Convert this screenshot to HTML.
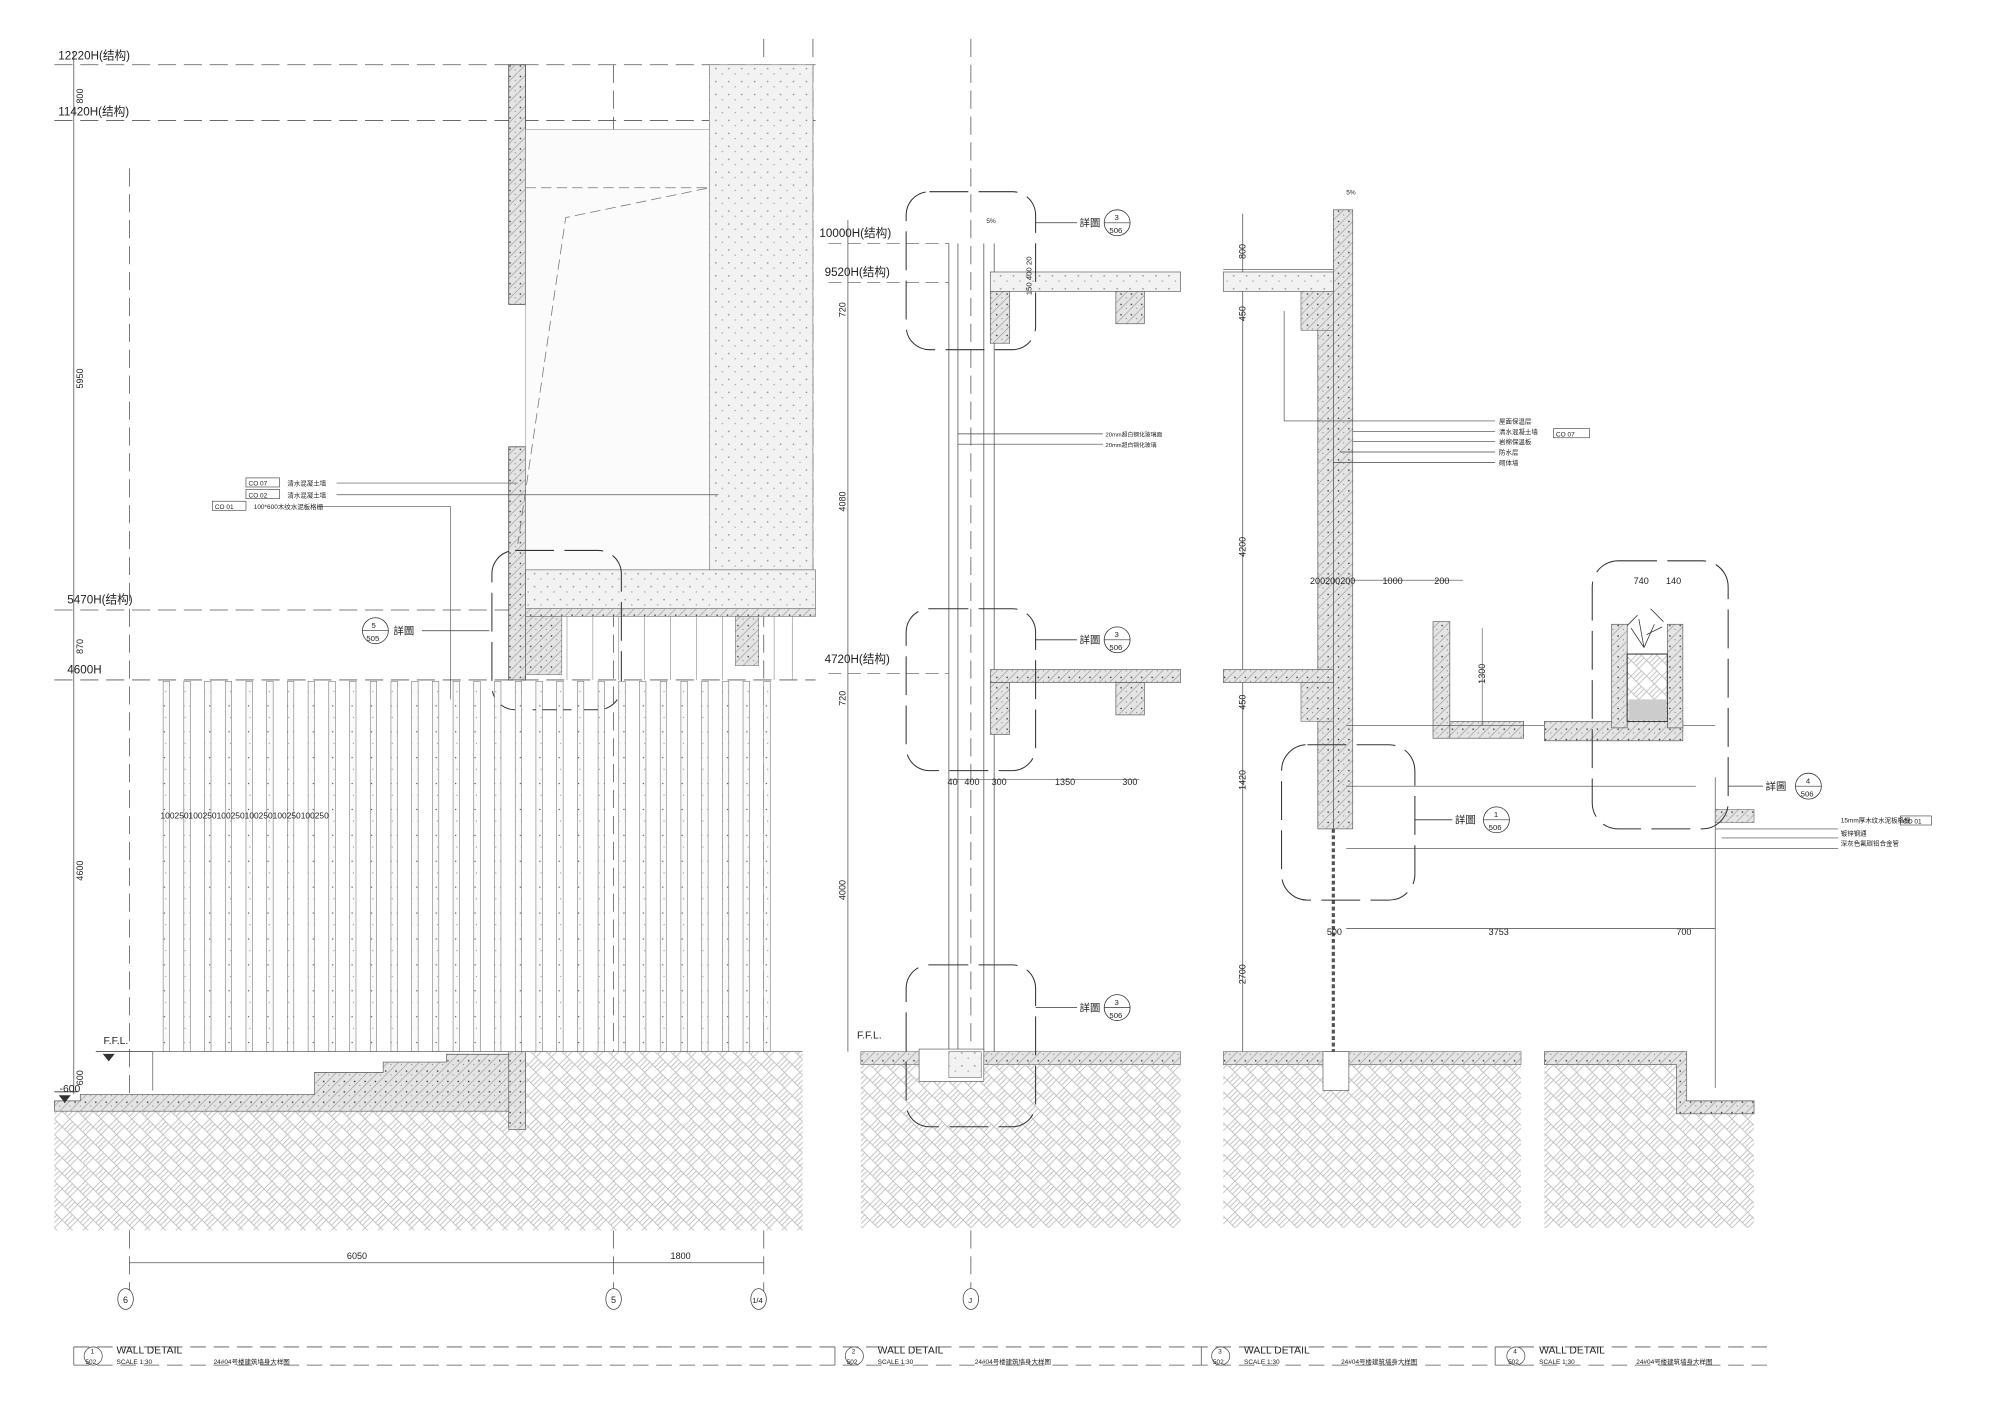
<!DOCTYPE html>
<html><head><meta charset="utf-8"><style>
html,body{margin:0;padding:0;background:#fff;}
svg{display:block;}
text{font-family:"Liberation Sans","Noto Sans CJK SC",sans-serif;fill:#222;}
</style></head><body>
<svg width="2000" height="1413" viewBox="0 0 1545 1091" preserveAspectRatio="none" xmlns="http://www.w3.org/2000/svg">
<defs>
<pattern id="gr" width="12" height="12" patternUnits="userSpaceOnUse">
<rect width="12" height="12" fill="#fff"/>
<path d="M0 6 L6 0 M2 8 L8 2 M6 12 L12 6 M4 10 L10 4 M6 0 L12 6 M0 6 L6 12" stroke="#b8b8b8" stroke-width="0.6"/>
</pattern>
<pattern id="cc" width="8" height="8" patternUnits="userSpaceOnUse">
<rect width="8" height="8" fill="#e4e4e4"/>
<path d="M0 8 L8 0" stroke="#999" stroke-width="0.5"/>
<circle cx="2" cy="3" r="0.6" fill="#333"/><circle cx="6" cy="6" r="0.4" fill="#555"/>
</pattern>
<pattern id="ct" width="10" height="10" patternUnits="userSpaceOnUse">
<rect width="10" height="10" fill="#f2f2f2"/>
<circle cx="3" cy="3" r="0.7" fill="#999"/><circle cx="8" cy="7" r="0.6" fill="#aaa"/>
</pattern>
<pattern id="sl" width="5" height="20" patternUnits="userSpaceOnUse">
<rect width="5" height="20" fill="#fafafa"/>
<circle cx="2" cy="5" r="0.5" fill="#444"/><circle cx="3" cy="14" r="0.4" fill="#777"/>
</pattern>
</defs>
<g stroke="#555" stroke-width="0.6" fill="none">
<!-- PANEL 1 levels -->
<g stroke-dasharray="14 6">
<line x1="42" y1="50" x2="630" y2="50"/><line x1="42" y1="93" x2="630" y2="93"/>
<line x1="42" y1="471" x2="630" y2="471"/><line x1="42" y1="525" x2="630" y2="525"/>
<line x1="100" y1="130" x2="100" y2="1000"/><line x1="474" y1="50" x2="474" y2="1000"/><line x1="590" y1="30" x2="590" y2="1000"/>
<line x1="628" y1="30" x2="628" y2="470"/>
<line x1="750" y1="30" x2="750" y2="1000"/>
</g>
<line x1="57" y1="40" x2="57" y2="845"/>
</g>
<g font-size="9">
<text x="45" y="46">12220H(结构)</text><text x="45" y="89">11420H(结构)</text>
<text x="52" y="466">5470H(结构)</text><text x="52" y="520">4600H</text>
<text x="80" y="806" font-size="8">F.F.L.</text><text x="46" y="843" font-size="8">-600</text>
</g>
<g font-size="7" transform="">
<text transform="translate(64,80) rotate(-90)">800</text>
<text transform="translate(64,300) rotate(-90)">5950</text>
<text transform="translate(64,505) rotate(-90)">870</text>
<text transform="translate(64,680) rotate(-90)">4600</text>
<text transform="translate(64,838) rotate(-90)">600</text>
</g>
<!-- upper structure -->
<rect x="393" y="50" width="13" height="185" fill="url(#cc)" stroke="#444" stroke-width="0.6"/>
<rect x="393" y="345" width="13" height="180" fill="url(#cc)" stroke="#444" stroke-width="0.6"/>
<rect x="548" y="50" width="80" height="390" fill="url(#ct)" stroke="#777" stroke-width="0.5"/>
<rect x="406" y="100" width="142" height="340" fill="#fbfbfb" stroke="#888" stroke-width="0.4"/>
<path d="M406 145 H548 L437 168 L400 420" stroke="#777" stroke-width="0.6" stroke-dasharray="8 4" fill="none"/>
<rect x="406" y="440" width="224" height="30" fill="url(#ct)" stroke="#666" stroke-width="0.5"/>
<rect x="406" y="470" width="224" height="6" fill="url(#cc)" stroke="#666" stroke-width="0.4"/>
<rect x="406" y="476" width="28" height="45" fill="url(#cc)" stroke="#666" stroke-width="0.4"/>
<rect x="568" y="476" width="18" height="38" fill="url(#cc)" stroke="#666" stroke-width="0.4"/>
<rect x="380" y="425" width="100" height="123" rx="18" fill="none" stroke="#333" stroke-width="0.8" stroke-dasharray="30 8"/>
<g font-size="7">
<circle cx="290" cy="487" r="10" fill="#fff" stroke="#333" stroke-width="0.6"/><line x1="280" y1="487" x2="300" y2="487" stroke="#333" stroke-width="0.5"/>
<text x="287" y="485" font-size="6">5</text><text x="283" y="495" font-size="6">505</text>
<text x="304" y="490" font-size="8">詳圖</text><line x1="326" y1="487" x2="378" y2="487" stroke="#333" stroke-width="0.6"/>
<rect x="190" y="369" width="26" height="7" fill="none" stroke="#444" stroke-width="0.5"/><text x="192" y="375" font-size="5">CO 07</text>
<rect x="190" y="378" width="26" height="7" fill="none" stroke="#444" stroke-width="0.5"/><text x="192" y="384" font-size="5">CO 02</text>
<rect x="164" y="387" width="26" height="7" fill="none" stroke="#444" stroke-width="0.5"/><text x="166" y="393" font-size="5">CO 01</text>
<text x="222" y="375" font-size="5">清水混凝土墙</text><text x="222" y="384" font-size="5">清水混凝土墙</text><text x="196" y="393" font-size="5">100*600木纹水泥板格栅</text>
</g>
<g stroke="#555" stroke-width="0.5">
<line x1="260" y1="373" x2="400" y2="373"/><line x1="260" y1="382" x2="555" y2="382"/><line x1="245" y1="391" x2="348" y2="391"/><line x1="348" y1="391" x2="348" y2="540"/>
</g>
<!-- slats -->
<g fill="url(#sl)" stroke="#666" stroke-width="0.4">
<rect x="126" y="526" width="5" height="286"/><rect x="142" y="526" width="5" height="286"/><rect x="158" y="526" width="5" height="286"/><rect x="174" y="526" width="5" height="286"/><rect x="190" y="526" width="5" height="286"/><rect x="206" y="526" width="5" height="286"/><rect x="222" y="526" width="5" height="286"/><rect x="238" y="526" width="5" height="286"/><rect x="254" y="526" width="5" height="286"/><rect x="270" y="526" width="5" height="286"/><rect x="286" y="526" width="5" height="286"/><rect x="302" y="526" width="5" height="286"/><rect x="318" y="526" width="5" height="286"/><rect x="334" y="526" width="5" height="286"/><rect x="350" y="526" width="5" height="286"/><rect x="366" y="526" width="5" height="286"/><rect x="382" y="526" width="5" height="286"/><rect x="398" y="526" width="5" height="286"/><rect x="414" y="526" width="5" height="286"/><rect x="430" y="526" width="5" height="286"/><rect x="446" y="526" width="5" height="286"/><rect x="462" y="526" width="5" height="286"/><rect x="478" y="526" width="5" height="286"/><rect x="494" y="526" width="5" height="286"/><rect x="510" y="526" width="5" height="286"/><rect x="526" y="526" width="5" height="286"/><rect x="542" y="526" width="5" height="286"/><rect x="558" y="526" width="5" height="286"/><rect x="574" y="526" width="5" height="286"/><rect x="590" y="526" width="5" height="286"/>
</g>
<g stroke="#777" stroke-width="0.4"><line x1="438" y1="476" x2="438" y2="525"/><line x1="458" y1="476" x2="458" y2="525"/><line x1="478" y1="476" x2="478" y2="525"/><line x1="498" y1="476" x2="498" y2="525"/><line x1="518" y1="476" x2="518" y2="525"/><line x1="538" y1="476" x2="538" y2="525"/><line x1="558" y1="476" x2="558" y2="525"/><line x1="598" y1="476" x2="598" y2="525"/><line x1="612" y1="476" x2="612" y2="525"/></g>
<text x="124" y="632" font-size="6.5">100250100250100250100250100250100250</text>
<!-- ground p1 -->
<rect x="42" y="858" width="578" height="92" fill="url(#gr)"/>
<path d="M406 812 H620 V858 H406 Z" fill="url(#gr)"/>
<path d="M62 845 H243 V828 H296 V820 H345 V814 H406 V870 H393 V858 H42 V850 H62 Z" fill="url(#cc)" stroke="#555" stroke-width="0.5"/>
<path d="M118 812 V842 M118 812 H393" stroke="#666" stroke-width="0.6" fill="none"/>
<path d="M406 812 H620" stroke="#666" stroke-width="0.6"/>
<rect x="393" y="812" width="13" height="60" fill="url(#cc)" stroke="#555" stroke-width="0.5"/>
<path d="M74 812 H118 M80 814 l4 5 l4 -5 z" stroke="#333" fill="#333" stroke-width="0.6"/>
<path d="M42 843 H60 M46 846 l4 5 l4 -5 z" stroke="#333" fill="#333" stroke-width="0.6"/>
<!-- dims bottom p1 -->
<g stroke="#555" stroke-width="0.6"><line x1="100" y1="975" x2="590" y2="975"/></g>
<text x="268" y="972" font-size="7">6050</text><text x="518" y="972" font-size="7">1800</text>
<g stroke="#444" stroke-width="0.6" fill="#fff"><ellipse cx="97" cy="1003" rx="6" ry="8"/><ellipse cx="474" cy="1003" rx="6" ry="8"/><ellipse cx="586" cy="1003" rx="6" ry="8"/><ellipse cx="750" cy="1003" rx="6" ry="8"/></g>
<g font-size="7"><text x="95" y="1006">6</text><text x="472" y="1006">5</text><text x="581" y="1006" font-size="6">1/4</text><text x="748" y="1006" font-size="6">J</text></g>

<!-- PANEL 2 -->
<g stroke="#555" stroke-width="0.6"><line x1="655" y1="170" x2="655" y2="812"/><line x1="733" y1="188" x2="733" y2="812"/><line x1="768" y1="188" x2="768" y2="812"/><line x1="740" y1="188" x2="740" y2="812"/><line x1="760" y1="188" x2="760" y2="812"/></g>
<g stroke="#555" stroke-width="0.5" stroke-dasharray="10 5"><line x1="640" y1="188" x2="733" y2="188"/><line x1="640" y1="218" x2="733" y2="218"/><line x1="640" y1="520" x2="733" y2="520"/></g>
<rect x="765" y="210" width="147" height="15" fill="url(#ct)" stroke="#555" stroke-width="0.5"/>
<rect x="765" y="225" width="15" height="40" fill="url(#cc)" stroke="#555" stroke-width="0.5"/>
<rect x="862" y="225" width="22" height="25" fill="url(#cc)" stroke="#555" stroke-width="0.5"/>
<rect x="765" y="517" width="147" height="10" fill="url(#cc)" stroke="#555" stroke-width="0.5"/>
<rect x="765" y="527" width="15" height="40" fill="url(#cc)" stroke="#555" stroke-width="0.5"/>
<rect x="862" y="527" width="22" height="25" fill="url(#cc)" stroke="#555" stroke-width="0.5"/>
<rect x="665" y="822" width="247" height="126" fill="url(#gr)"/>
<path d="M665 812 H912 V822 H665 Z" fill="url(#cc)" stroke="#555" stroke-width="0.4"/>
<rect x="710" y="810" width="50" height="25" fill="#fff" stroke="#555" stroke-width="0.5"/>
<rect x="733" y="812" width="25" height="20" fill="url(#ct)" stroke="#555" stroke-width="0.4"/>
<g stroke="#333" stroke-width="0.8" fill="none" stroke-dasharray="30 8">
<rect x="700" y="148" width="100" height="122" rx="18"/><rect x="700" y="470" width="100" height="125" rx="18"/><rect x="700" y="745" width="100" height="125" rx="18"/>
</g>
<g font-size="9"><text x="633" y="183">10000H(结构)</text><text x="637" y="213">9520H(结构)</text><text x="637" y="512">4720H(结构)</text><text x="662" y="802" font-size="8">F.F.L.</text></g>
<g font-size="7"><text transform="translate(653,245) rotate(-90)">720</text><text transform="translate(653,395) rotate(-90)">4080</text><text transform="translate(653,545) rotate(-90)">720</text><text transform="translate(653,695) rotate(-90)">4000</text>
<text x="732" y="606">40</text><text x="745" y="606">400</text><text x="766" y="606">300</text><text x="815" y="606">1350</text><text x="867" y="606">300</text><text x="762" y="172" font-size="5">5%</text>
<text transform="translate(797,228) rotate(-90)" font-size="6">150 400 20</text></g>
<line x1="733" y1="602" x2="880" y2="602" stroke="#555" stroke-width="0.5"/>
<g stroke="#444" stroke-width="0.5"><line x1="740" y1="335" x2="852" y2="335"/><line x1="740" y1="343" x2="852" y2="343"/></g>
<g font-size="4.5"><text x="854" y="337">20mm超白钢化玻璃面</text><text x="854" y="345">20mm超白钢化玻璃</text></g>
<g font-size="8">
<line x1="800" y1="172" x2="832" y2="172" stroke="#333" stroke-width="0.6"/><text x="834" y="175">詳圖</text>
<line x1="800" y1="494" x2="832" y2="494" stroke="#333" stroke-width="0.6"/><text x="834" y="497">詳圖</text>
<line x1="800" y1="778" x2="832" y2="778" stroke="#333" stroke-width="0.6"/><text x="834" y="781">詳圖</text>
</g>
<g stroke="#333" stroke-width="0.6" fill="#fff"><circle cx="863" cy="172" r="10"/><circle cx="863" cy="494" r="10"/><circle cx="863" cy="778" r="10"/><circle cx="1156" cy="633" r="10"/><circle cx="1397" cy="607" r="10"/></g>
<g stroke="#333" stroke-width="0.5"><line x1="853" y1="172" x2="873" y2="172"/><line x1="853" y1="494" x2="873" y2="494"/><line x1="853" y1="778" x2="873" y2="778"/><line x1="1146" y1="633" x2="1166" y2="633"/><line x1="1387" y1="607" x2="1407" y2="607"/></g>
<g font-size="6"><text x="861" y="170">3</text><text x="857" y="180">506</text><text x="861" y="492">3</text><text x="857" y="502">506</text><text x="861" y="776">3</text><text x="857" y="786">506</text><text x="1154" y="631">1</text><text x="1150" y="641">506</text><text x="1395" y="605">4</text><text x="1391" y="615">506</text></g>

<!-- PANEL 3 -->
<g stroke="#555" stroke-width="0.6"><line x1="960" y1="165" x2="960" y2="812"/></g>
<rect x="1030" y="162" width="15" height="478" fill="url(#cc)" stroke="#555" stroke-width="0.5"/>
<rect x="1018" y="228" width="12" height="412" fill="url(#cc)" stroke="#555" stroke-width="0.5"/>
<line x1="1030" y1="640" x2="1030" y2="812" stroke="#555" stroke-width="2.5" stroke-dasharray="3 2"/>
<rect x="945" y="210" width="85" height="15" fill="url(#ct)" stroke="#555" stroke-width="0.5"/>
<rect x="1005" y="225" width="25" height="30" fill="url(#cc)" stroke="#555" stroke-width="0.4"/>
<rect x="945" y="517" width="85" height="10" fill="url(#cc)" stroke="#555" stroke-width="0.5"/>
<rect x="1005" y="527" width="25" height="30" fill="url(#cc)" stroke="#555" stroke-width="0.4"/>
<rect x="1107" y="480" width="13" height="90" fill="url(#cc)" stroke="#555" stroke-width="0.5"/>
<rect x="1120" y="557" width="57" height="13" fill="url(#cc)" stroke="#555" stroke-width="0.5"/>
<rect x="945" y="822" width="230" height="126" fill="url(#gr)"/>
<rect x="945" y="812" width="230" height="10" fill="url(#cc)" stroke="#555" stroke-width="0.4"/>
<rect x="1022" y="812" width="20" height="30" fill="#fff" stroke="#555" stroke-width="0.5"/>
<rect x="990" y="575" width="103" height="120" rx="20" fill="none" stroke="#333" stroke-width="0.8" stroke-dasharray="30 8"/>
<line x1="1093" y1="633" x2="1122" y2="633" stroke="#333" stroke-width="0.6"/><text x="1124" y="636" font-size="8">詳圖</text>
<g stroke="#444" stroke-width="0.5" fill="none"><path d="M992 240 V325 H1155"/><line x1="1045" y1="333" x2="1155" y2="333"/><line x1="1045" y1="341" x2="1155" y2="341"/><line x1="1035" y1="349" x2="1155" y2="349"/><line x1="1030" y1="357" x2="1155" y2="357"/>
<line x1="1040" y1="655" x2="1325" y2="655"/><line x1="1325" y1="640" x2="1420" y2="640"/><line x1="1330" y1="647" x2="1420" y2="647"/><line x1="1325" y1="655" x2="1420" y2="655"/><line x1="1325" y1="600" x2="1325" y2="840"/>
<line x1="1040" y1="560" x2="1325" y2="560"/><line x1="1040" y1="607" x2="1310" y2="607"/><line x1="1045" y1="448" x2="1130" y2="448"/><line x1="1040" y1="717" x2="1325" y2="717"/><line x1="945" y1="208" x2="1030" y2="208"/></g>
<g font-size="5"><text x="1158" y="327">屋面保温层</text><text x="1158" y="335">清水混凝土墙</text><text x="1158" y="343">岩棉保温板</text><text x="1158" y="351">防水层</text><text x="1158" y="359">砌体墙</text>
<rect x="1200" y="331" width="28" height="7" fill="none" stroke="#444" stroke-width="0.5"/><text x="1202" y="337">CO 07</text>
<text x="1422" y="635">15mm厚木纹水泥板格栅</text><rect x="1468" y="630" width="24" height="7" fill="none" stroke="#444" stroke-width="0.5"/><text x="1470" y="636">CO 01</text>
<text x="1422" y="645">镀锌钢通</text><text x="1422" y="653">深灰色氟碳铝合金管</text></g>
<g font-size="7"><text x="1012" y="451">200200200</text><text x="1068" y="451">1000</text><text x="1108" y="451">200</text>
<text x="1025" y="722">500</text><text x="1150" y="722">3753</text><text x="1295" y="722">700</text>
<text transform="translate(962,200) rotate(-90)">800</text><text transform="translate(962,248) rotate(-90)">450</text><text transform="translate(962,430) rotate(-90)">4200</text><text transform="translate(962,548) rotate(-90)">450</text><text transform="translate(962,610) rotate(-90)">1420</text><text transform="translate(962,760) rotate(-90)">2700</text>
<text transform="translate(1147,528) rotate(-90)">1300</text><text x="1262" y="451">740</text><text x="1287" y="451">140</text><text x="1040" y="150" font-size="5">5%</text></g>
<line x1="1145" y1="485" x2="1145" y2="560" stroke="#555" stroke-width="0.5"/>
<!-- PANEL 4 -->
<rect x="1193" y="822" width="110" height="126" fill="url(#gr)"/>
<rect x="1303" y="860" width="52" height="88" fill="url(#gr)"/>
<path d="M1193 812 H1303 V850 H1355 V860 H1295 V822 H1193 Z" fill="url(#cc)" stroke="#555" stroke-width="0.5"/>
<rect x="1193" y="557" width="107" height="15" fill="url(#cc)" stroke="#555" stroke-width="0.5"/>
<rect x="1245" y="482" width="12" height="80" fill="url(#cc)" stroke="#555" stroke-width="0.5"/>
<rect x="1288" y="482" width="12" height="80" fill="url(#cc)" stroke="#555" stroke-width="0.5"/>
<rect x="1257" y="505" width="31" height="52" fill="url(#gr)" stroke="#333" stroke-width="0.8"/>
<rect x="1258" y="540" width="29" height="16" fill="#ccc"/>
<g stroke="#333" stroke-width="0.6" fill="none"><path d="M1270 500 l-10 -15 M1270 500 l8 -18 M1270 500 l-4 -22 M1275 470 l10 10 M1265 475 l-8 8 M1272 490 l12 -6"/></g>
<rect x="1325" y="625" width="30" height="10" fill="url(#cc)" stroke="#555" stroke-width="0.4"/>
<rect x="1230" y="433" width="105" height="207" rx="20" fill="none" stroke="#333" stroke-width="0.8" stroke-dasharray="30 8"/>
<line x1="1335" y1="607" x2="1362" y2="607" stroke="#333" stroke-width="0.6"/><text x="1364" y="610" font-size="8">詳圖</text>
<!-- title blocks -->
<g stroke="#555" stroke-width="0.6" fill="none">
<line x1="57" y1="1040" x2="1368" y2="1040" stroke-dasharray="12 6"/><line x1="57" y1="1054" x2="1368" y2="1054" stroke-dasharray="12 6"/>
<line x1="57" y1="1040" x2="57" y2="1054"/><line x1="645" y1="1040" x2="645" y2="1054"/><line x1="928" y1="1040" x2="928" y2="1054"/><line x1="1155" y1="1040" x2="1155" y2="1054"/>
<circle cx="72" cy="1047" r="7" fill="#fff"/><circle cx="660" cy="1047" r="7" fill="#fff"/><circle cx="943" cy="1047" r="7" fill="#fff"/><circle cx="1171" cy="1047" r="7" fill="#fff"/>
</g>
<g font-size="8"><text x="90" y="1045">WALL DETAIL</text><text x="678" y="1045">WALL DETAIL</text><text x="961" y="1045">WALL DETAIL</text><text x="1189" y="1045">WALL DETAIL</text></g>
<g font-size="5"><text x="70" y="1045">1</text><text x="66" y="1053">502</text><text x="658" y="1045">2</text><text x="654" y="1053">502</text><text x="941" y="1045">3</text><text x="937" y="1053">502</text><text x="1169" y="1045">4</text><text x="1165" y="1053">502</text>
<text x="90" y="1053">SCALE 1:30</text><text x="165" y="1053">24#04号楼建筑墙身大样图</text><text x="678" y="1053">SCALE 1:30</text><text x="753" y="1053">24#04号楼建筑墙身大样图</text><text x="961" y="1053">SCALE 1:30</text><text x="1036" y="1053">24#04号楼建筑墙身大样图</text><text x="1189" y="1053">SCALE 1:30</text><text x="1264" y="1053">24#04号楼建筑墙身大样图</text></g>
</svg>
</body></html>
